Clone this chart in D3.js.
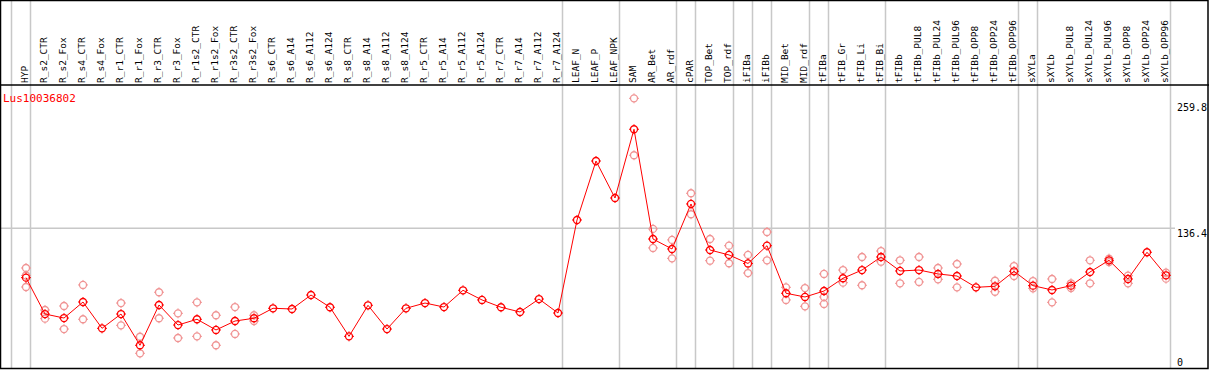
<!DOCTYPE html>
<html>
<head>
<meta charset="utf-8">
<script src="https://cdn.jsdelivr.net/npm/d3@7"></script>
<style>
  html, body { margin: 0; padding: 0; background: #fff; }
  svg { display: block; }
  text { font-family: "DejaVu Sans Mono", "Liberation Mono", monospace; }
</style>
</head>
<body>
<div id="draw_svg"></div>
<script>
// gene shown in the chart
const geneName = 'Lus10036802';

// tissue / sample names, left to right
const samples = [
  'HYP', 'R_s2_CTR', 'R_s2_Fox', 'R_s4_CTR', 'R_s4_Fox', 'R_r1_CTR', 'R_r1_Fox',
  'R_r3_CTR', 'R_r3_Fox', 'R_r1s2_CTR', 'R_r1s2_Fox', 'R_r3s2_CTR', 'R_r3s2_Fox',
  'R_s6_CTR', 'R_s6_A14', 'R_s6_A112', 'R_s6_A124', 'R_s8_CTR', 'R_s8_A14',
  'R_s8_A112', 'R_s8_A124', 'R_r5_CTR', 'R_r5_A14', 'R_r5_A112', 'R_r5_A124',
  'R_r7_CTR', 'R_r7_A14', 'R_r7_A112', 'R_r7_A124', 'LEAF_N', 'LEAF_P', 'LEAF_NPK',
  'SAM', 'AR_Bet', 'AR_rdf', 'cPAR', 'TOP_Bet', 'TOP_rdf', 'iFIBa', 'iFIBb',
  'MID_Bet', 'MID_rdf', 'tFIBa', 'tFIB_Gr', 'tFIB_Li', 'tFIB_Bi', 'tFIBb',
  'tFIBb_PUL8', 'tFIBb_PUL24', 'tFIBb_PUL96', 'tFIBb_OPP8', 'tFIBb_OPP24', 'tFIBb_OPP96',
  'sXYLa', 'sXYLb', 'sXYLb_PUL8', 'sXYLb_PUL24', 'sXYLb_PUL96', 'sXYLb_OPP8',
  'sXYLb_OPP24', 'sXYLb_OPP96'
];

// mean expression per sample
const means = [
  88.4, 53.0, 49.1, 64.7, 39.1, 53.0, 22.6, 61.8, 42.3, 47.9, 37.5, 46.2, 48.9,
  58.6, 57.9, 71.5, 59.6, 31.3, 61.5, 38.4, 58.6, 63.7, 59.8, 76.1, 66.7,
  59.6, 55.0, 67.6, 54.0, 144.5, 201.9, 165.9,
  232.8, 126.0, 116.3, 160.1, 115.3, 110.5, 102.2, 119.5,
  73.2, 69.6, 75.4, 87.8, 95.8, 108.5, 94.9,
  95.8, 92.0, 90.0, 79.0, 80.0, 94.6,
  80.6, 76.4, 80.6, 93.9, 105.3, 87.1, 113.1, 90.7
];

// replicate values per sample (empty when none shown)
const replicates = [
  [97.8, 90.5, 79.3], [56.9, 48.5], [60.8, 38.4], [81.3, 47.9], [], [63.7, 42.0], [30.9, 14.8],
  [74.2, 48.9], [53.7, 29.7], [64.4, 31.3], [51.8, 22.6], [59.8, 33.6], [51.8, 46.2],
  [], [], [], [], [], [], [], [], [], [], [], [],
  [], [], [], [], [], [], [],
  [262.9, 207.5], [135.8, 117.3], [125.1, 107.2], [170.5, 150.1], [126.0, 104.9], [119.5, 102.4], [110.5, 92.9], [132.8, 105.3],
  [79.0, 66.7], [78.3, 60.5], [92.0, 69.6, 62.8], [95.8, 83.5], [108.5, 81.0], [114.3, 103.9], [105.3, 82.9],
  [108.5, 84.2], [97.8, 86.8], [101.7, 79.0], [], [85.4, 74.7], [99.7, 90.0],
  [85.1, 78.0], [87.1, 64.4], [82.9, 78.3], [105.3, 82.9], [106.9, 103.6], [90.3, 82.9], [], [93.2, 87.4]
];

// index of the last sample in each group (-1 = before the first one)
const groupEnds = [-1, 0, 28, 31, 34, 35, 37, 38, 39, 41, 42, 45, 52, 53, 60];

// value labels on the right
const yTicks = [0, 136.4, 259.8];
const yMax = 259.8;

const W = 1209, H = 370;

drawMarker = (g, color) => {
  g.append('circle').attr('r', 3.5).attr('fill', 'none')
    .attr('stroke', color).attr('stroke-width', 1.3);
  g.append('path')
    .attr('d', 'M0,-5V-3.5M0,3.5V5M-5,0H-3.5M3.5,0H5')
    .attr('stroke', color).attr('stroke-width', 1);
}

pageInit = () => {
  const svg = d3.select('#draw_svg').append('svg')
    .attr('width', W).attr('height', H);

  const x = d3.scalePoint().domain(samples).range([26, 26 + 19 * (samples.length - 1)]);
  const step = x.step();
  const y = d3.scaleLinear().domain([0, yMax]).range([368.5, 101.5]);

  // group separators
  svg.selectAll('line.sep').data(groupEnds).enter().append('line')
    .attr('x1', d => (d < 0 ? x(samples[0]) - step : x(samples[d])) + 4.5)
    .attr('x2', d => (d < 0 ? x(samples[0]) - step : x(samples[d])) + 4.5)
    .attr('y1', 0).attr('y2', 368)
    .attr('stroke', '#c8c8c8').attr('stroke-width', 1.5);

  // gridline at middle tick
  svg.append('line')
    .attr('x1', 0).attr('x2', 1175)
    .attr('y1', y(yTicks[1])).attr('y2', y(yTicks[1]))
    .attr('stroke', '#c8c8c8').attr('stroke-width', 1.5);

  // frame
  svg.append('rect').attr('x', 0.5).attr('y', 0.5).attr('width', W - 1.5).attr('height', 368)
    .attr('fill', 'none').attr('stroke', '#000').attr('stroke-width', 1.5);
  svg.append('line').attr('x1', 0).attr('x2', W).attr('y1', 85).attr('y2', 85)
    .attr('stroke', '#000').attr('stroke-width', 1.5);

  // sample labels
  svg.selectAll('text.lab').data(samples).enter().append('text')
    .attr('transform', d => `translate(${x(d) + 2},83) rotate(-90)`)
    .attr('font-size', '9.5px')
    .attr('fill', '#000')
    .text(d => d);

  // value labels
  svg.selectAll('text.tick').data(yTicks).enter().append('text')
    .attr('x', 1177)
    .attr('y', d => d === 0 ? y(d) - 3 : y(d) + 9)
    .attr('font-size', '10px')
    .attr('fill', '#000')
    .text(d => d);

  svg.append('text').attr('x', 3).attr('y', 102)
    .attr('font-size', '11px').attr('fill', '#ff0000')
    .text(geneName);

  // replicates
  const reps = [];
  replicates.forEach((r, i) => r.forEach(v => reps.push({s: samples[i], v})));
  svg.selectAll('g.rep').data(reps).enter().append('g')
    .attr('transform', d => `translate(${x(d.s)},${y(d.v)})`)
    .each(function () { drawMarker(d3.select(this), '#f09494'); });

  // mean line
  const line = d3.line().x((d, i) => x(samples[i])).y(d => y(d));
  svg.append('path').datum(means).attr('d', line)
    .attr('fill', 'none').attr('stroke', '#ff0000').attr('stroke-width', 1);

  svg.selectAll('g.mean').data(means).enter().append('g')
    .attr('transform', (d, i) => `translate(${x(samples[i])},${y(d)})`)
    .each(function () { drawMarker(d3.select(this), '#ff0000'); });
}

window.onload = () => {
  pageInit();
}
</script>
</body>
</html>
